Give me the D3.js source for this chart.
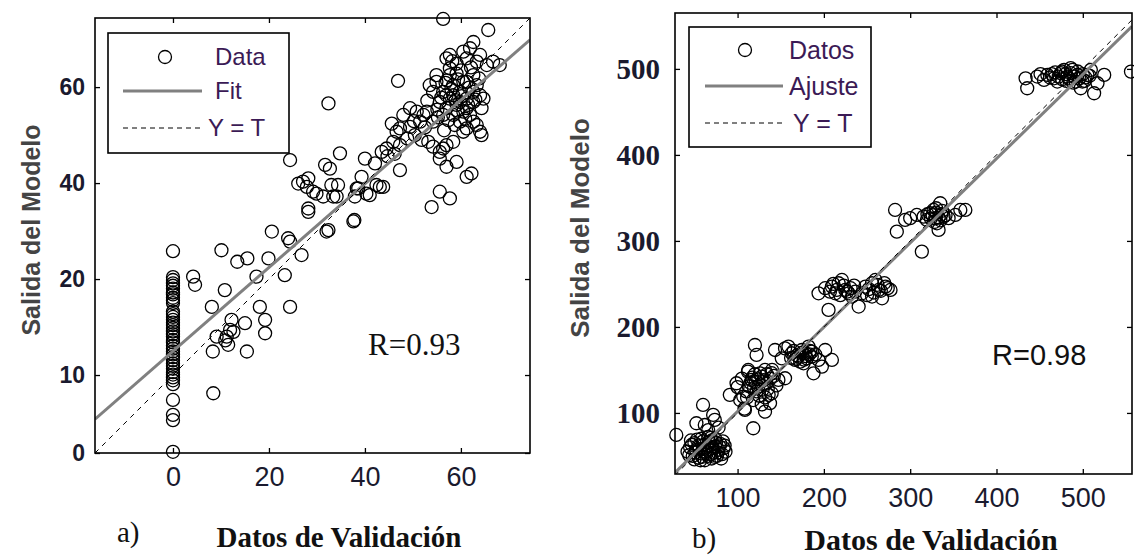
<!DOCTYPE html>
<html>
<head>
<meta charset="utf-8">
<script src="https://cdn.jsdelivr.net/npm/d3@7"></script>
<style>
  body { margin: 0; background: #fff; }
  svg { display: block; }
</style>
</head>
<body>
<svg id="chart" width="1134" height="555"></svg>
<script>
// ---------- Panel a) ----------
// validation targets equal to 0: model outputs stacked in a column
const columnA_y = [25.8, 20.4, 19.8, 19.1, 18.6, 18.0, 17.2, 16.8, 16.1, 15.6, 15.0,
  13.2, 12.7, 12.1, 11.5, 10.9, 10.4, 9.8, 9.1, 8.5, 8.0, 7.3, 6.8, 6.1, 5.5, 4.9,
  4.3, 3.7, 3.1, 2.4, 1.9, 1.3, 0.6, 0.1, -0.5, -1.1, -1.9, -5.2, -8.3, -9.4, -16.0];
// remaining (target, output) pairs
const pointsA = [
  [4.2,20.5],[4.6,18.8],[8.4,-3.8],[8.1,14.2],[10.8,17.7],[10.1,26.0],[13.4,23.6],
  [15.5,24.3],[8.3,4.9],[9.1,8.0],[11.2,8.0],[12.2,11.5],[11.9,9.4],[15.0,10.8],
  [15.4,4.9],[11.5,6.3],[18.1,14.2],[19.2,11.5],[19.2,8.7],[17.4,20.5],[19.9,24.3],
  [23.3,20.8],[24.4,14.2],[20.6,29.9],[24.0,28.5],[24.4,27.8],[26.8,25.0],[32.0,29.9],
  [28.2,34.0],[37.6,32.0],[37.8,32.3],[24.4,44.8],[12.6,9.0],[10.9,7.2],
  [26.1,39.9],[27.9,39.2],[29.9,37.8],[33.0,39.6],[34.4,39.6],[38.3,38.9],[40.3,37.8],
  [43.1,39.2],[31.3,37.2],[34.1,37.2],
  [32.4,56.6],[46.9,61.3],[65.7,71.9],[56.3,74.2],[47.3,42.7],[53.9,35.0],[55.6,38.2],
  [57.7,36.8],[61.2,41.3],[62.2,42.0],[32.4,30.2],[34.8,46.2],[31.7,43.8],[32.7,43.0],
  [28.2,41.0],[29.2,38.2],[27.1,40.3],[28.2,34.7],[33.4,37.2],[37.9,37.2],[39.3,41.3],
  [38.6,38.9],[41.0,37.5],[42.4,39.6],[43.8,39.2],[40.0,45.1],[42.1,44.1],[43.5,46.5],
  [44.5,47.2],[45.9,48.6],[47.3,47.9],[46.6,50.7],[45.6,52.4],[48.0,54.2],[47.3,51.4],
  [49.4,51.7],[50.4,50.0],[51.8,49.0],[53.2,48.6],[54.2,47.6],[55.6,46.5],[57.0,47.9],
  [58.4,48.6],[55.6,45.1],[57.0,43.4],[59.1,44.4],[56.3,47.2],[49.4,55.6],[50.8,54.9],
  [52.2,54.2],[51.5,52.8],[52.9,54.9],[54.2,52.8],
  [54.9,61.1],[56.3,59.0],[57.7,57.6],[59.1,56.3],[60.5,54.9],[61.9,54.2],[62.6,52.8],
  [64.0,50.7],[58.4,60.4],[59.8,59.0],[61.2,57.6],[62.6,56.9],[64.0,58.3],[57.0,55.6],
  [58.4,54.2],[59.8,52.8],[61.2,51.4],[55.6,56.9],[54.2,59.0],[53.5,60.4],[54.9,62.5],
  [57.7,62.5],[60.5,61.1],[63.3,60.4],[64.7,57.6],[63.3,52.1],[64.3,50.0],
  [57.7,66.7],[59.1,64.9],[60.5,67.4],[61.9,68.1],[62.6,69.4],[64.0,66.7],[65.4,64.6],
  [66.7,65.3],[68.1,64.6],[63.3,65.3],[61.2,66.0],[57.7,63.9],[59.1,62.8],
  [57.0,66.0],[62.6,62.5],[59.8,56.9],[61.2,55.6],[57.0,58.3],[58.4,58.3],[56.3,54.2],
  [61.2,61.1],[62.6,59.0],[64.3,55.6],[58.7,52.1],[60.5,50.7],
  [55.9,57.8],[56.8,60.9],[58.0,59.6],[59.4,61.6],[60.2,58.1],[61.7,59.9],[63.0,57.4],
  [60.9,53.4],[59.3,55.1],[57.4,53.1],[55.2,53.7],[53.0,57.2],[56.5,51.0],[62.1,64.1],
  [60.0,63.5],[58.2,65.4],[63.8,61.8],[61.5,56.3],[58.9,57.3],[57.1,61.4],[55.1,55.3],
  [52.5,51.6],[50.2,52.9],[48.8,49.3],[44.7,45.6],[46.2,46.1]
];
const fitA = [0.872, 4.97];            // slope, intercept
const xTicksA = [0, 20, 40, 60];
const yTicksA = [-16.25, 0, 20, 40, 60];
const yTickLabelsA = ["0", "10", "20", "40", "60"];
const legendA = ["Data", "Fit", "Y = T"];

// ---------- Panel b) ----------
const pointsB = [
  // ~60
  [42,55],[45,60],[48,50],[50,65],[52,57],[55,48],[55,62],[58,53],[60,67],[60,58],
  [62,45],[63,55],[65,62],[66,50],[68,58],[70,68],[70,47],[72,54],[74,61],[76,50],
  [78,57],[80,64],[82,52],[84,59],[58,70],[66,72],[50,46],[74,70],[86,55],[46,68],
  [44,51],[47,63],[51,54],[53,69],[56,58],[59,49],[61,63],[64,53],[67,66],[69,52],
  [71,59],[73,49],[75,65],[77,54],[79,61],[81,47],[83,67],[85,62],[57,45],[69,71],
  [29,74.4],[60,109.3],[71.7,97.7],[52.3,88],[62,86],[73.6,91.9],[66,80],[78,83],
  // ~130
  [120.1,179],[122,167.4],[112.4,150],[91,121],[98.8,134.5],[106.6,119],[108.5,103.5],
  [118.2,82.2],[131.8,101.5],[137.6,111.3],[139.5,122.9],[147.3,138.4],[155,140.3],
  [127.9,142.2],[116.3,138.4],[124,130.6],[131.8,150],[139.5,146.2],
  [100,130],[105,140],[110,125],[115,135],[120,145],[125,120],[130,138],[135,128],
  [140,150],[112,148],[118,115],[128,110],[145,132],[108,105],[122,125],[132,118],
  [138,140],[103,115],[113,131],[117,141],[121,136],[126,146],[129,127],[133,134],
  [136,121],[142,143],[111,118],[124,139],[119,129],[134,145],
  // ~175
  [143.4,173.2],[155,175],[162.8,169.4],[170.5,165.5],[178.3,169.4],[186,165.5],
  [193.8,161.6],[201.5,173.2],[209.3,161.6],[188,146.1],[176.4,157.7],[166.7,161.6],
  [151.2,163.5],[197.7,153.9],[182.2,177.1],[158.9,177.1],[174.4,173.2],[180.2,163.5],
  [186,171.3],[172.5,159.6],[165,172],[169,167],[175,170],[179,166],[183,168],
  [168,163],[177,162],[184,172],[190,168],[162,164],
  // ~240
  [193.8,239.1],[205.4,219.8],[209.3,246.9],[217.1,250.8],[224.8,243],[232.6,235.3],
  [240.3,223.7],[248.1,246.9],[255.8,250.8],[263.6,243],[271.3,246.9],[277.2,243],
  [267.4,233.3],[255.8,235.3],[220.9,254.6],[236.4,241.1],[213.2,239.1],[228.7,239.1],
  [244.2,239.1],[201.5,245],[259.7,254.6],[215,243],[219,237],[223,248],[227,241],
  [231,245],[211,250],[207,241],[252,244],[258,240],[262,249],[266,242],[270,251],
  [250,237],[274,245],[235,248],
  // ~330
  [282.5,336],[284.5,310.8],[313.5,287.6],[300,326.4],[307.7,330.2],[319.3,324.4],
  [327.1,336],[331,320.5],[334.8,343.8],[338.7,328.3],[323.2,332.2],[332.9,312.8],
  [344.5,326.4],[358.1,336],[363.9,336],[352.3,330.2],[294.1,324.4],[315.5,328.3],
  [329,326.4],[326,330],[330,333],[333,327],[336,331],[328,322],[324,326],[337,335],
  [341,330],[320,331],[335,324],[330,338],
  // ~490
  [433.7,489.1],[435.6,477.5],[447.2,491.1],[458.9,493],[466.6,489.1],[474.4,495],
  [482.1,491.1],[488,498.9],[493.8,493],[499.6,485.3],[505.4,493],[513.1,471.7],
  [517,483.3],[524.8,493],[497.6,477.5],[470.5,485.3],[491.8,485.3],[455,487.2],
  [478.3,498.9],[509.3,498.9],[555.8,496.9],[451,494],[462,490],[468,496],[472,491],
  [476,488],[480,494],[484,489],[486,495],[490,491],[494,497],[496,489],[500,494],
  [503,490],[486,501],[481,486],[489,484],[476,497],[464,494],[502,486],[508,492]
];
const fitB = [0.98, 3.7];
const xTicksB = [100, 200, 300, 400, 500];
const yTicksB = [100, 200, 300, 400, 500];
const legendB = ["Datos", "Ajuste", "Y = T"];

const SANS = "'Liberation Sans', Arial, sans-serif";
const SERIF = "'Liberation Serif', 'Times New Roman', serif";
const LEGEND_TEXT = "#3b1a55";

const svg = d3.select("#chart");

function drawPanel(cfg) {
  const [x0, y0, x1, y1] = cfg.box;
  const x = d3.scaleLinear().domain(cfg.xDomain).range([x0, x1]);
  const y = d3.scaleLinear().domain(cfg.yDomain).range([y1, y0]);
  const g = svg.append("g");

  g.append("clipPath").attr("id", cfg.id + "-clip")
    .append("rect").attr("x", x0).attr("y", y0)
    .attr("width", x1 - x0).attr("height", y1 - y0);

  // scatter markers
  g.append("g").selectAll("circle").data(cfg.points).join("circle")
    .attr("cx", d => x(d[0])).attr("cy", d => y(d[1])).attr("r", 6.5)
    .attr("fill", "none").attr("stroke", "#000").attr("stroke-width", 1.3);

  const line = d3.line().x(d => x(d[0])).y(d => y(d[1]));
  // regression line
  g.append("path")
    .attr("d", line(cfg.xDomain.map(v => [v, cfg.fit[0] * v + cfg.fit[1]])))
    .attr("fill", "none").attr("stroke", "#808080").attr("stroke-width", 3)
    .attr("clip-path", `url(#${cfg.id}-clip)`);
  // identity line
  g.append("path")
    .attr("d", line(cfg.xDomain.map(v => [v, v])))
    .attr("fill", "none").attr("stroke", "#000").attr("stroke-width", 1)
    .attr("stroke-dasharray", "5,5")
    .attr("clip-path", `url(#${cfg.id}-clip)`);

  // axes with inward ticks on all four sides
  const bottom = g.append("g").attr("transform", `translate(0,${y1})`)
    .call(d3.axisBottom(x).tickValues(cfg.xTicks).tickSizeInner(-5).tickSizeOuter(0)
      .tickPadding(cfg.xPad));
  bottom.selectAll("text").attr("font-family", SANS).attr("font-size", cfg.xFont)
    .attr("fill", "#1a1a2e");
  const top = g.append("g").attr("transform", `translate(0,${y0})`)
    .call(d3.axisTop(x).tickValues(cfg.xTicks).tickSizeInner(-5).tickSizeOuter(0)
      .tickFormat(""));
  const left = g.append("g").attr("transform", `translate(${x0},0)`)
    .call(d3.axisLeft(y).tickValues(cfg.yTicks).tickSizeInner(-5).tickSizeOuter(0)
      .tickPadding(cfg.yPad).tickFormat((d, i) => cfg.yLabels[i]));
  left.selectAll("text").attr("font-family", cfg.yFamily).attr("font-size", cfg.yFont)
    .attr("font-weight", "bold").attr("fill", "#1a1a2e");
  const right = g.append("g").attr("transform", `translate(${x1},0)`)
    .call(d3.axisRight(y).tickValues(cfg.yTicks).tickSizeInner(-5).tickSizeOuter(0)
      .tickFormat(""));
  [bottom, top, left, right].forEach(a => {
    a.select(".domain").remove();
    a.selectAll("line").attr("stroke", "#000").attr("stroke-width", 1.3);
  });

  g.append("rect").attr("x", x0).attr("y", y0)
    .attr("width", x1 - x0).attr("height", y1 - y0)
    .attr("fill", "none").attr("stroke", "#000").attr("stroke-width", 1.6);

  // legend
  const L = cfg.legend;
  const lg = g.append("g");
  lg.append("rect").attr("x", L.box[0]).attr("y", L.box[1])
    .attr("width", L.box[2] - L.box[0]).attr("height", L.box[3] - L.box[1])
    .attr("fill", "#fff").attr("stroke", "#000").attr("stroke-width", 1.6);
  lg.append("circle").attr("cx", L.marker[0]).attr("cy", L.marker[1]).attr("r", 6.5)
    .attr("fill", "none").attr("stroke", "#000").attr("stroke-width", 1.3);
  lg.append("line").attr("x1", L.line[0]).attr("x2", L.line[1])
    .attr("y1", L.rows[1]).attr("y2", L.rows[1])
    .attr("stroke", "#808080").attr("stroke-width", 3);
  lg.append("line").attr("x1", L.line[0]).attr("x2", L.line[1])
    .attr("y1", L.rows[2]).attr("y2", L.rows[2])
    .attr("stroke", "#000").attr("stroke-width", 1).attr("stroke-dasharray", "5,4");
  lg.selectAll("text").data(cfg.legendLabels).join("text")
    .attr("x", (d, i) => L.textX[i]).attr("y", (d, i) => L.rows[i])
    .attr("dy", "0.35em")
    .attr("font-family", SANS).attr("font-size", L.font).attr("fill", LEGEND_TEXT)
    .text(d => d);

  // correlation note
  g.append("text").attr("x", cfg.rPos[0]).attr("y", cfg.rPos[1])
    .attr("font-family", cfg.rFamily).attr("font-size", cfg.rFont).attr("fill", "#111")
    .text(cfg.rText);

  // axis titles and panel tag
  g.append("text")
    .attr("transform", `translate(${cfg.yTitle[0]},${cfg.yTitle[1]}) rotate(-90)`)
    .attr("text-anchor", "middle").attr("font-family", SANS).attr("font-weight", "bold")
    .attr("font-size", cfg.yTitle[2]).attr("fill", "#444")
    .text("Salida del Modelo");
  g.append("text").attr("x", cfg.xTitle[0]).attr("y", cfg.xTitle[1])
    .attr("text-anchor", "middle").attr("font-family", SERIF).attr("font-weight", "bold")
    .attr("font-size", cfg.xTitle[2]).attr("fill", "#111")
    .text("Datos de Validación");
  g.append("text").attr("x", cfg.tag[0]).attr("y", cfg.tag[1])
    .attr("font-family", SERIF).attr("font-size", cfg.tag[2]).attr("fill", "#111")
    .text(cfg.tagText);
}

drawPanel({
  id: "a",
  box: [95, 18, 530, 453],
  xDomain: [-16.25, 74.4], yDomain: [-16.25, 74.4],
  points: columnA_y.map(v => [0, v]).concat(pointsA),
  fit: fitA,
  xTicks: xTicksA, yTicks: yTicksA, yLabels: yTickLabelsA,
  xPad: 14, xFont: 27, yPad: 10, yFont: 23, yFamily: SANS,
  legend: { box: [108, 33, 289, 153], marker: [165, 57], line: [123, 202],
            rows: [57, 91, 128], textX: [215, 215, 208], font: 24 },
  legendLabels: legendA,
  rPos: [368, 355], rFont: 31, rFamily: SERIF, rText: "R=0.93",
  yTitle: [40, 230, 25], xTitle: [339, 547, 29], tag: [117, 542, 29], tagText: "a)"
});

drawPanel({
  id: "b",
  box: [675, 13, 1132, 474],
  xDomain: [27.5, 557], yDomain: [29, 565],
  points: pointsB,
  fit: fitB,
  xTicks: xTicksB, yTicks: yTicksB, yLabels: yTicksB.map(String),
  xPad: 14, xFont: 27, yPad: 15, yFont: 29, yFamily: SERIF,
  legend: { box: [689, 27, 871, 147], marker: [745, 50], line: [705, 783],
            rows: [50, 86, 123], textX: [789, 789, 793], font: 25 },
  legendLabels: legendB,
  rPos: [992, 365], rFont: 29, rFamily: SANS, rText: "R=0.98",
  yTitle: [589, 228, 26], xTitle: [931, 550, 30], tag: [692, 548, 29], tagText: "b)"
});
</script>
</body>
</html>
